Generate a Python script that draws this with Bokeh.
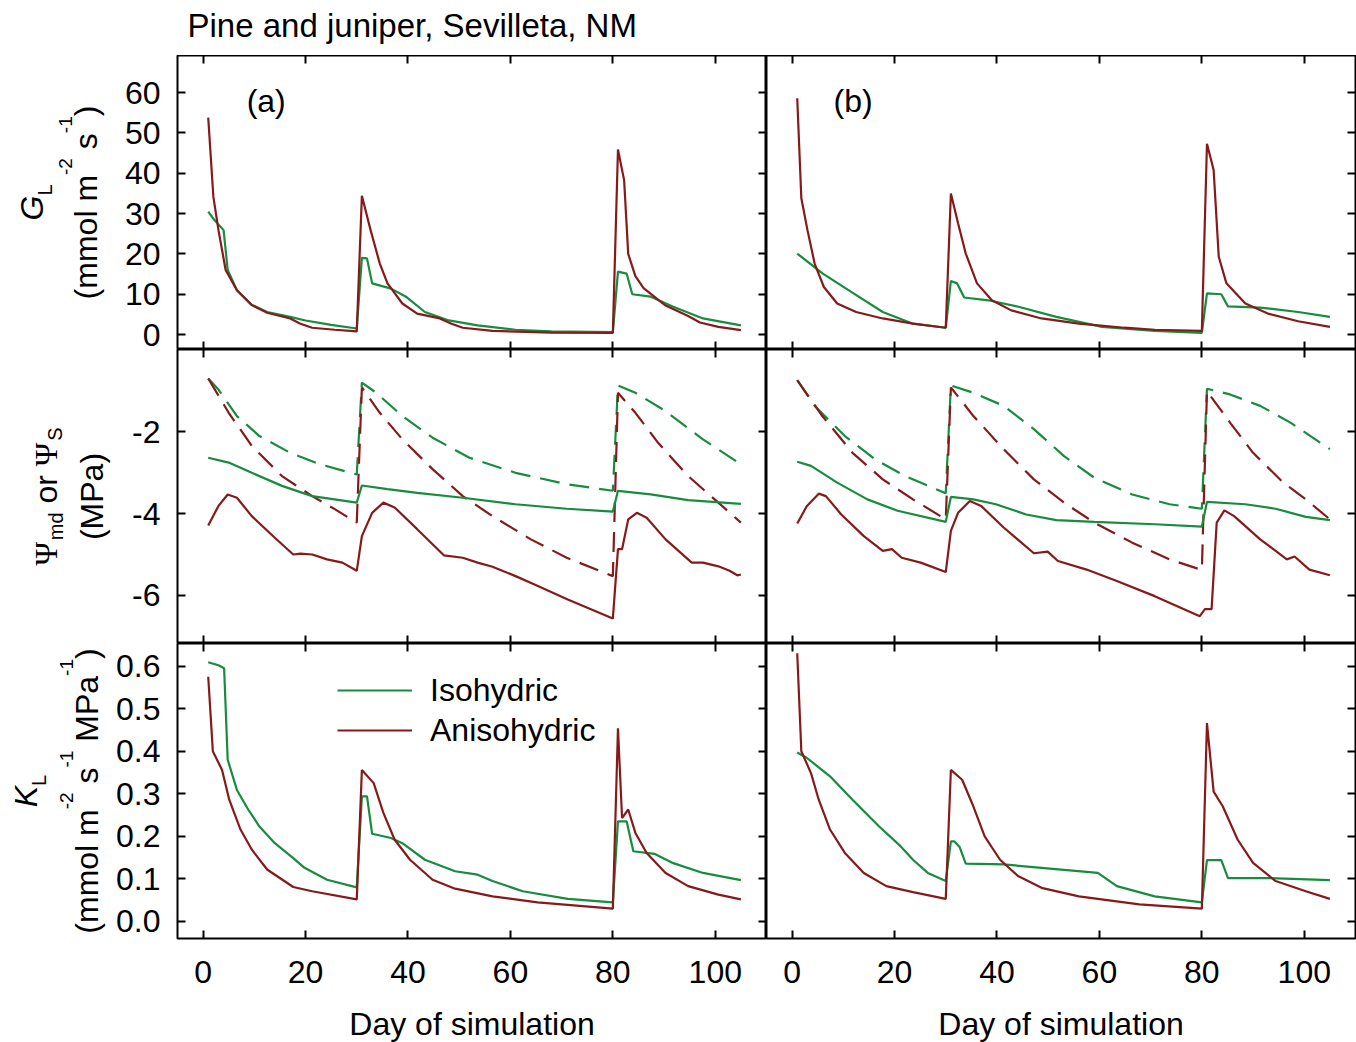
import math
from bokeh.plotting import figure
from bokeh.models import (Range1d, LinearAxis, FixedTicker, Label, Legend, LegendItem)
from bokeh.layouts import gridplot, column
from bokeh.embed import file_html
from bokeh.resources import INLINE

# ---------------- data ----------------
x_ticks = [0, 20, 40, 60, 80, 100]
x_tick_labels = ["0", "20", "40", "60", "80", "100"]
gl_ticks = [0, 10, 20, 30, 40, 50, 60]
gl_tick_labels = ["0", "10", "20", "30", "40", "50", "60"]
psi_ticks = [-6, -4, -2]
psi_tick_labels = ["-6", "-4", "-2"]
kl_ticks = [0.0, 0.1, 0.2, 0.3, 0.4, 0.5, 0.6]
kl_tick_labels = ["0.0", "0.1", "0.2", "0.3", "0.4", "0.5", "0.6"]

# G_L, panel (a)
ga_iso_d = [1, 2.2, 4, 4.8, 6.6, 9.5, 12.5, 17, 20, 25, 30, 31, 32, 33, 36.7, 39.6, 43.3, 47.7, 53.6, 61, 68, 80, 81, 82.7, 83.8, 87.4, 91.8, 97.6, 105]
ga_iso = [30.5, 28.4, 25.9, 16, 11, 7.4, 5.6, 4.4, 3.5, 2.4, 1.5, 19, 18.9, 12.7, 11.4, 9.4, 5.6, 3.6, 2.3, 1.2, 0.8, 0.6, 15.6, 15.1, 10, 9.4, 6.9, 4, 2.3]
ga_ani_d = [1, 2, 3, 4.4, 6.6, 9.5, 12.5, 17, 19, 21.3, 25.7, 30, 31, 32.7, 34.5, 36, 38.9, 41.8, 46.2, 48.5, 50.7, 56.5, 68, 80, 81, 82.2, 83, 84.4, 86, 90.3, 94.7, 97, 100.6, 105]
ga_ani = [53.8, 34.2, 25.9, 16, 11, 7.3, 5.4, 4.0, 2.7, 1.7, 1.2, 0.8, 34.4, 25.9, 17.6, 12.7, 7.7, 5.2, 4.0, 2.7, 1.7, 0.9, 0.5, 0.4, 45.9, 38.3, 20, 14.5, 11.5, 7.2, 4.6, 3.0, 1.9, 1.1]
# G_L, panel (b)
gb_iso_d = [1, 6, 12, 17.7, 23.6, 30, 31, 32.2, 33.6, 38.3, 44.2, 51.6, 60.5, 70.8, 80, 81, 83.8, 85.1, 91.4, 98.8, 105]
gb_iso = [20.1, 15.1, 10.2, 5.6, 2.7, 1.7, 13.3, 12.7, 9.2, 8.5, 6.9, 4.4, 1.9, 0.9, 0.4, 10.2, 10, 7, 6.7, 5.6, 4.4]
gb_ani_d = [1, 1.8, 3, 4.4, 6.2, 8.8, 12.5, 17.7, 23.6, 30, 31, 32.4, 33.9, 36.1, 39, 42.8, 48.7, 56, 64.9, 70.8, 80, 81, 82.3, 83.3, 84.8, 88.5, 92.9, 98.8, 105]
gb_ani = [58.6, 33.8, 25.9, 17.6, 11.8, 7.7, 5.6, 4.0, 2.7, 1.7, 35, 27.6, 20.1, 12.7, 8.5, 6, 4, 2.7, 1.7, 1.2, 0.9, 47.3, 40.8, 19.3, 12.7, 7.7, 5.2, 3.3, 1.9]

# Psi, panel (a): s = dashed, md = solid
pa_s_iso_d = [1, 3, 6.6, 11, 17, 22.8, 30, 31, 33.8, 38.9, 44.8, 52, 61, 71, 80, 81, 84.4, 90.3, 97.6, 105]
pa_s_iso = [-0.69, -0.96, -1.61, -2.1, -2.51, -2.79, -3.04, -0.79, -1.04, -1.61, -2.14, -2.63, -3.0, -3.28, -3.44, -0.86, -1.04, -1.49, -2.18, -2.79]
pa_s_ani_d = [1, 5, 9.5, 15.4, 21.3, 25.7, 30, 31, 34.5, 38.9, 44.8, 50.7, 56.5, 64, 71, 80, 81, 84.4, 88.8, 94.7, 100.6, 105]
pa_s_ani = [-0.69, -1.53, -2.34, -3.08, -3.57, -3.89, -4.22, -0.91, -1.53, -2.18, -2.91, -3.57, -4.06, -4.63, -5.08, -5.53, -1.04, -1.53, -2.26, -3.08, -3.73, -4.22]
pa_md_iso_d = [1, 5, 9.5, 15.4, 21.3, 30, 31, 36, 41.8, 50.7, 61, 71, 80, 81, 87.4, 94.7, 105]
pa_md_iso = [-2.63, -2.75, -3.0, -3.32, -3.57, -3.73, -3.31, -3.4, -3.49, -3.61, -3.77, -3.88, -3.95, -3.44, -3.53, -3.67, -3.76]
pa_md_ani_d = [1, 3, 4.8, 6.6, 9.5, 14, 17.6, 19, 21.3, 24.2, 27.2, 30, 31, 33, 35.2, 37.4, 41.8, 47, 50.7, 53.6, 56.5, 61, 64.6, 71.2, 80, 81, 81.8, 83, 84.7, 86.6, 90.3, 95.4, 97.6, 100.6, 102.8, 104.3, 105]
pa_md_ani = [-4.29, -3.81, -3.53, -3.61, -4.06, -4.59, -5.0, -4.98, -5.0, -5.12, -5.2, -5.4, -4.55, -3.98, -3.73, -3.85, -4.38, -5.02, -5.08, -5.2, -5.3, -5.53, -5.73, -6.1, -6.57, -4.87, -4.87, -4.14, -3.98, -4.1, -4.63, -5.2, -5.2, -5.29, -5.4, -5.51, -5.49]
# Psi, panel (b)
pb_s_iso_d = [1, 4.4, 10.3, 16.2, 22.1, 30, 31, 35.4, 41.3, 47.2, 53.1, 59, 66.4, 73.7, 80, 81, 85.5, 91.4, 97.3, 105]
pb_s_iso = [-0.73, -1.36, -2.1, -2.67, -3.08, -3.5, -0.86, -1.04, -1.36, -1.93, -2.59, -3.12, -3.53, -3.77, -3.88, -0.94, -1.08, -1.36, -1.77, -2.42]
pb_s_ani_d = [1, 5.9, 11.8, 17.7, 23.6, 30, 31, 35.4, 41.3, 47.2, 53.1, 59, 66.4, 73.7, 80, 81, 85.5, 90, 95.9, 100.3, 105]
pb_s_ani = [-0.73, -1.61, -2.51, -3.16, -3.65, -4.14, -0.91, -1.61, -2.42, -3.16, -3.73, -4.22, -4.71, -5.12, -5.38, -1.0, -1.77, -2.51, -3.24, -3.65, -4.14]
pb_md_iso_d = [1, 3.7, 8.8, 14.7, 20.6, 30, 31, 35.4, 39.8, 45.7, 51.6, 59, 70.8, 80, 81, 88.5, 94.4, 100.3, 105]
pb_md_iso = [-2.73, -2.83, -3.24, -3.65, -3.93, -4.2, -3.59, -3.65, -3.77, -4.02, -4.16, -4.2, -4.26, -4.32, -3.71, -3.77, -3.88, -4.08, -4.16]
pb_md_ani_d = [1, 2.9, 5.2, 6.6, 9.6, 14, 17.7, 19.5, 21.4, 25.1, 30, 31, 32.4, 34.7, 36.9, 41.3, 47.2, 49.9, 51.9, 57.5, 63.4, 70.8, 79.6, 80.6, 81.9, 82.9, 84.4, 86.3, 91.4, 96.6, 98.1, 101, 105]
pb_md_ani = [-4.24, -3.81, -3.51, -3.57, -4.02, -4.55, -4.91, -4.87, -5.08, -5.2, -5.43, -4.42, -3.98, -3.69, -3.81, -4.34, -4.97, -4.93, -5.16, -5.37, -5.65, -6.02, -6.51, -6.34, -6.34, -4.22, -3.92, -4.06, -4.63, -5.12, -5.05, -5.37, -5.51]

# K_L, panel (a)
ka_iso_d = [1, 3, 4.1, 4.8, 6.6, 8.8, 11, 14, 17.6, 19.8, 24.2, 30, 31, 32, 33, 36.7, 38.9, 43.3, 49.2, 53.6, 56.5, 62.4, 71.2, 80, 81, 82.7, 84, 88.1, 91.8, 97.6, 105]
ka_iso = [0.609, 0.602, 0.595, 0.38, 0.309, 0.263, 0.223, 0.184, 0.149, 0.126, 0.098, 0.08, 0.294, 0.294, 0.206, 0.196, 0.184, 0.145, 0.118, 0.11, 0.095, 0.071, 0.053, 0.045, 0.235, 0.235, 0.165, 0.159, 0.137, 0.114, 0.097]
ka_ani_d = [1, 1.9, 3.7, 5.1, 7.3, 9.5, 12.5, 17.6, 21.3, 30, 31, 33.3, 35.2, 37.4, 40.4, 44.8, 49.2, 56.5, 65.3, 80, 81, 81.8, 83, 84.4, 86.6, 90.3, 94.7, 100.6, 105]
ka_ani = [0.575, 0.4, 0.356, 0.286, 0.216, 0.169, 0.122, 0.081, 0.071, 0.052, 0.356, 0.325, 0.255, 0.192, 0.145, 0.098, 0.077, 0.059, 0.045, 0.03, 0.454, 0.243, 0.263, 0.208, 0.161, 0.114, 0.083, 0.063, 0.052]
# K_L, panel (b)
kb_iso_d = [1, 2.9, 7.4, 11.8, 17, 20.9, 23.6, 26.5, 30, 31, 31.7, 32.7, 33.9, 41.3, 48.7, 59.7, 63.4, 70.8, 80, 81, 83.8, 85.1, 92.9, 105]
kb_iso = [0.397, 0.384, 0.341, 0.286, 0.223, 0.18, 0.145, 0.114, 0.095, 0.188, 0.188, 0.175, 0.136, 0.134, 0.126, 0.114, 0.083, 0.059, 0.045, 0.144, 0.144, 0.102, 0.102, 0.097]
kb_ani_d = [1, 1.8, 3.7, 5.2, 7.4, 10.3, 14, 18.4, 23.6, 30, 31, 33.2, 35.4, 37.6, 40.6, 44.2, 48.7, 56, 67.8, 80, 81, 82.3, 84.1, 87, 90, 94.4, 100.3, 105]
kb_ani = [0.63, 0.4, 0.348, 0.286, 0.216, 0.161, 0.114, 0.083, 0.069, 0.053, 0.356, 0.333, 0.27, 0.2, 0.145, 0.106, 0.079, 0.059, 0.04, 0.03, 0.466, 0.305, 0.27, 0.192, 0.1375, 0.095, 0.071, 0.053]

series_names = ["Isohydric", "Anisohydric"]
title_text = "Pine and juniper, Sevilleta, NM"
panel_tags = ["(a)", "(b)"]
x_title = "Day of simulation"

# ---------------- styling ----------------
GREEN = "#178c3e"
RED = "#861a1a"
SANS = "Liberation Sans"
SERIF = "Liberation Serif"
FS = "32px"
LW = 2.2
DASH = "20 10"

PAGE_W = 1356
TITLE_H = 55           # strip above the panels holding the title
STRIP_W = 112          # left strip holding the y titles
LEFT_BORDER = 65       # room for the tick labels
BOTTOM_BORDER = 100
FRAME_W = [589, 589]
FRAME_H = [294, 294, 295]
X_RANGE = (-5, 110)
Y_RANGES = [(-3.7, 69.2), (-7.18, 0.02), (-0.04, 0.653)]
Y_TICKS = [gl_ticks, psi_ticks, kl_ticks]
Y_LABELS = [gl_tick_labels, psi_tick_labels, kl_tick_labels]
XFIX = -12             # correction for rotated-label anchoring


def hidden_axis(ticks):
    ax = LinearAxis(ticker=FixedTicker(ticks=ticks))
    ax.major_label_text_font_size = "0px"
    ax.major_label_text_color = None
    ax.major_label_standoff = 0
    ax.major_tick_in = 8
    ax.major_tick_out = 0
    ax.minor_tick_in = 0
    ax.minor_tick_out = 0
    ax.axis_line_color = None
    ax.major_tick_line_width = 2
    ax.major_tick_line_color = "black"
    return ax


def shown_axis(ticks, labels, standoff):
    ax = LinearAxis(ticker=FixedTicker(ticks=ticks))
    ax.major_label_overrides = {t: l for t, l in zip(ticks, labels)}
    ax.major_label_text_font = SANS
    ax.major_label_text_font_size = FS
    ax.major_label_text_color = "black"
    ax.major_label_standoff = standoff
    ax.major_tick_in = 8
    ax.major_tick_out = 0
    ax.minor_tick_in = 0
    ax.minor_tick_out = 0
    ax.axis_line_color = None
    ax.major_tick_line_width = 2
    ax.major_tick_line_color = "black"
    return ax


AW = {'(': 333, ')': 333, 'm': 833, 'o': 556, 'l': 222, ' ': 278, 's': 500, '-': 333,
      '1': 556, '2': 556, 'G': 778, 'L': 556, 'K': 667, 'M': 833, 'P': 667, 'a': 556,
      'd': 556, 'r': 333, 'S': 667, 'Ψ': 795}


def tw(s, size):
    return sum(AW.get(c, 556) for c in s) / 1000.0 * size


def vtext(fig, pieces, xb, yc):
    """Vertical rich text built from pieces: (text, size, shift, style, font)."""
    total = sum(tw(t, sz) for t, sz, *_ in pieces)
    y = yc - total / 2.0
    for t, sz, dx, style, font in pieces:
        lead = len(t) - len(t.lstrip(' '))
        fig.add_layout(Label(x=xb + dx + XFIX, y=y + lead * 0.278 * sz,
                             text=t.strip(), angle=math.pi / 2, text_font_size=f"{sz}px",
                             text_font=font, text_font_style=style, text_align='left',
                             text_baseline='alphabetic', text_color='black'))
        y += tw(t, sz)


def kill_grid(p):
    for g in p.xgrid + p.ygrid:
        g.visible = False


def blank(w, h, top=0, bottom=0):
    f = figure(frame_width=w, frame_height=h, x_range=Range1d(0, w), y_range=Range1d(0, h),
               x_axis_location=None, y_axis_location=None,
               toolbar_location=None, output_backend="svg",
               min_border_left=0, min_border_right=0,
               min_border_top=top, min_border_bottom=bottom)
    f.outline_line_color = None
    kill_grid(f)
    return f


data = {
    (0, 0): [(ga_iso_d, ga_iso, GREEN, "solid"), (ga_ani_d, ga_ani, RED, "solid")],
    (0, 1): [(gb_iso_d, gb_iso, GREEN, "solid"), (gb_ani_d, gb_ani, RED, "solid")],
    (1, 0): [(pa_s_iso_d, pa_s_iso, GREEN, DASH), (pa_s_ani_d, pa_s_ani, RED, DASH),
             (pa_md_iso_d, pa_md_iso, GREEN, "solid"), (pa_md_ani_d, pa_md_ani, RED, "solid")],
    (1, 1): [(pb_s_iso_d, pb_s_iso, GREEN, DASH), (pb_s_ani_d, pb_s_ani, RED, DASH),
             (pb_md_iso_d, pb_md_iso, GREEN, "solid"), (pb_md_ani_d, pb_md_ani, RED, "solid")],
    (2, 0): [(ka_iso_d, ka_iso, GREEN, "solid"), (ka_ani_d, ka_ani, RED, "solid")],
    (2, 1): [(kb_iso_d, kb_iso, GREEN, "solid"), (kb_ani_d, kb_ani, RED, "solid")],
}

# title strip (1 data unit = 1 px; y measured up from the strip bottom)
title_fig = blank(PAGE_W, TITLE_H)
title_fig.add_layout(Label(x=187, y=30, text=title_text, text_font=SANS,
                           text_font_size="33px", text_color="black",
                           text_align="left", text_baseline="alphabetic"))

rows = []
strips = []
for r in range(3):
    s = blank(STRIP_W, FRAME_H[r], bottom=BOTTOM_BORDER if r == 2 else 0)
    strips.append(s)
    row = [s]
    for c in range(2):
        p = figure(frame_width=FRAME_W[c], frame_height=FRAME_H[r],
                   x_range=Range1d(*X_RANGE), y_range=Range1d(*Y_RANGES[r]),
                   x_axis_location=None, y_axis_location=None,
                   toolbar_location=None, output_backend="svg",
                   min_border_left=LEFT_BORDER if c == 0 else 0,
                   min_border_right=0 if c == 0 else 1,
                   min_border_top=0,
                   min_border_bottom=BOTTOM_BORDER if r == 2 else 0)
        kill_grid(p)
        p.outline_line_color = "black"
        p.outline_line_width = 2
        p.outline_line_alpha = 1

        if r == 2:
            bx = shown_axis(x_ticks, x_tick_labels, 22)
            bx.axis_label = x_title
            bx.axis_label_text_font = SANS
            bx.axis_label_text_font_size = FS
            bx.axis_label_text_font_style = "normal"
            bx.axis_label_text_color = "black"
            bx.axis_label_standoff = 20
        else:
            bx = hidden_axis(x_ticks)
        p.add_layout(bx, "below")
        p.add_layout(hidden_axis(x_ticks), "above")
        if c == 0:
            p.add_layout(shown_axis(Y_TICKS[r], Y_LABELS[r], 17), "left")
        p.add_layout(hidden_axis(Y_TICKS[r]), "right")

        rends = []
        for xs, ys, col, dash in data[(r, c)]:
            rends.append(p.line(xs, ys, line_color=col, line_width=LW, line_dash=dash))

        if r == 0:
            p.add_layout(Label(x=8.5 if c == 0 else 8.1, y=58, text=panel_tags[c],
                               text_font=SANS, text_font_size=FS, text_color="black",
                               text_align="left", text_baseline="alphabetic"))
        if r == 2 and c == 0:
            leg = Legend(items=[LegendItem(label=series_names[0], renderers=[rends[0]]),
                                LegendItem(label=series_names[1], renderers=[rends[1]])],
                         location=(160, 188), glyph_width=75, glyph_height=40,
                         label_height=40, label_standoff=18, spacing=0, padding=0,
                         margin=0, border_line_color=None, background_fill_alpha=0,
                         label_text_font=SANS, label_text_font_size=FS,
                         label_text_color="black")
            p.add_layout(leg)
        row.append(p)
    rows.append(row)

# y-axis titles: x = page pixel of the baseline, y = px above the frame bottom
vtext(strips[0], [("G", 32, 0, "italic", SANS), ("L", 20, 13, "normal", SANS)], 43, FRAME_H[0] / 2)
vtext(strips[0], [("(mmol m", 32, 0, "normal", SANS), ("-2", 19, -20, "normal", SANS),
                  (" s", 32, 0, "normal", SANS), ("-1", 19, -20, "normal", SANS),
                  (")", 32, 0, "normal", SANS)], 97, FRAME_H[0] / 2)
vtext(strips[1], [("Ψ", 32, 0, "normal", SERIF), ("md", 20, 10, "normal", SANS),
                  (" or ", 32, 0, "normal", SANS), ("Ψ", 32, 0, "normal", SERIF),
                  ("S", 20, 9, "normal", SANS)], 57, FRAME_H[1] / 2)
vtext(strips[1], [("(MPa)", 32, 0, "normal", SANS)], 103, FRAME_H[1] / 2)
vtext(strips[2], [("K", 32, 0, "italic", SANS), ("L", 20, 13, "normal", SANS)], 37, FRAME_H[2] / 2)
vtext(strips[2], [("(mmol m", 32, 0, "normal", SANS), ("-2", 19, -20, "normal", SANS),
                  (" s", 32, 0, "normal", SANS), ("-1", 19, -20, "normal", SANS),
                  (" MPa", 32, 0, "normal", SANS), ("-1", 19, -20, "normal", SANS),
                  (")", 32, 0, "normal", SANS)], 98, FRAME_H[2] / 2)

grid = gridplot(rows, toolbar_location=None)
page = column(title_fig, grid)
open("out.html", "w").write(file_html(page, INLINE))
